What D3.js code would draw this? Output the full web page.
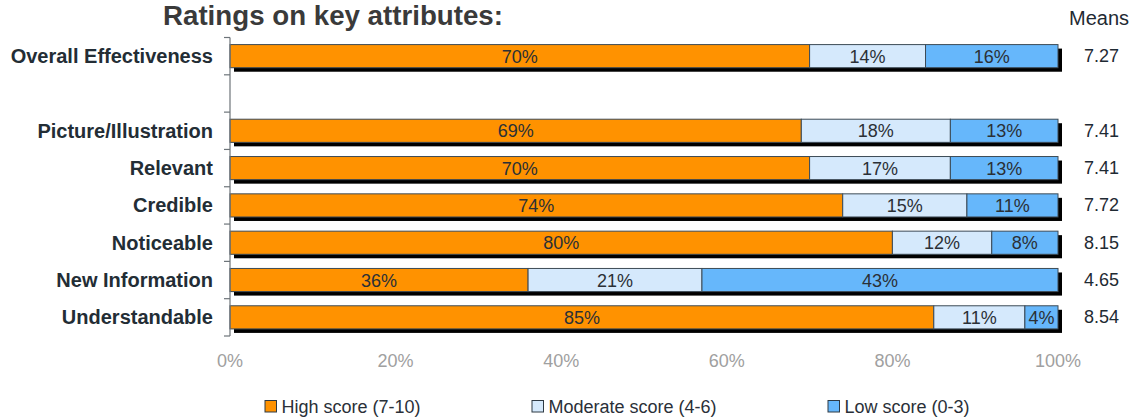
<!DOCTYPE html>
<html>
<head>
<meta charset="utf-8">
<script src="https://cdn.jsdelivr.net/npm/d3@7"></script>
<style>
  html, body { margin: 0; padding: 0; background: #fff; }
  svg { display: block; font-family: "Liberation Sans", Arial, Helvetica, sans-serif; }
</style>
</head>
<body>
<svg id="chart" width="1140" height="417"></svg>
<script>
// Rows of the chart; an empty entry leaves a gap under the first row.
const categories = ["Overall Effectiveness", "", "Picture/Illustration", "Relevant", "Credible", "Noticeable", "New Information", "Understandable"];
const rowNames = ["Overall Effectiveness", "Picture/Illustration", "Relevant", "Credible", "Noticeable", "New Information", "Understandable"];
const highScore = [70, 69, 70, 74, 80, 36, 85];
const moderateScore = [14, 18, 17, 15, 12, 21, 11];
const lowScore = [16, 13, 13, 11, 8, 43, 4];
const means = ["7.27", "7.41", "7.41", "7.72", "8.15", "4.65", "8.54"];
const xTicks = [0, 20, 40, 60, 80, 100];
const seriesNames = ["High score (7-10)", "Moderate score (4-6)", "Low score (0-3)"];
const seriesColors = ["#ff9200", "#d5e9fc", "#66b7fb"];

const svg = d3.select("#chart");
const plotLeft = 230, plotRight = 1058, plotTop = 37.5, plotBottom = 336;

const x = d3.scaleLinear().domain([0, 100]).range([plotLeft, plotRight]);
const y = d3.scaleBand().domain(categories.map((c, i) => i)).range([plotTop, plotBottom]).paddingInner(0.38).paddingOuter(0.19);
const step = y.step();

// Title
svg.append("text").attr("x", 163).attr("y", 25)
  .attr("font-size", 27).attr("font-weight", "bold").attr("fill", "#3a3a3a")
  .attr("textLength", 340).attr("lengthAdjust", "spacingAndGlyphs")
  .text("Ratings on key attributes:");

svg.append("text").attr("x", 1099).attr("y", 25).attr("text-anchor", "middle")
  .attr("font-size", 20).attr("fill", "#1f2a33").text("Means");

// Stack the three series
const table = rowNames.map((name, i) => ({ name, row: categories.indexOf(name), high: highScore[i], moderate: moderateScore[i], low: lowScore[i], mean: means[i] }));
const stacked = d3.stack().keys(["high", "moderate", "low"])(table);

const rows = svg.append("g");
// Drop shadows behind each full bar
rows.selectAll("rect.shadow").data(table).join("rect")
  .attr("class", "shadow")
  .attr("x", x(0) + 4).attr("y", d => y(d.row) + 4)
  .attr("width", x(100) - x(0)).attr("height", y.bandwidth())
  .attr("fill", "#000");

stacked.forEach((layer, k) => {
  const g = rows.append("g");
  g.selectAll("rect").data(layer).join("rect")
    .attr("x", d => x(d[0])).attr("y", d => y(d.data.row))
    .attr("width", d => x(d[1]) - x(d[0])).attr("height", y.bandwidth())
    .attr("fill", seriesColors[k]).attr("stroke", "#3d4b56").attr("stroke-width", 1);
  g.selectAll("text").data(layer).join("text")
    .attr("x", d => (x(d[0]) + x(d[1])) / 2).attr("y", d => y(d.data.row) + y.bandwidth() / 2 + 6.5)
    .attr("text-anchor", "middle").attr("font-size", 18).attr("fill", "#2b3036")
    .text(d => (d[1] - d[0]) + "%");
});

// Category labels
svg.append("g").selectAll("text").data(table).join("text")
  .attr("x", 213).attr("y", d => y(d.row) + y.bandwidth() / 2 + 7)
  .attr("text-anchor", "end").attr("font-size", 20).attr("font-weight", "bold").attr("fill", "#232d35")
  .text(d => d.name);

// Means column
svg.append("g").selectAll("text").data(table).join("text")
  .attr("x", 1084).attr("y", d => y(d.row) + y.bandwidth() / 2 + 6)
  .attr("font-size", 18).attr("fill", "#1f2a33")
  .text(d => d.mean);

// Vertical axis with ticks between rows
const axisG = svg.append("g").attr("stroke", "#6d7479").attr("stroke-width", 1.2);
axisG.append("line").attr("x1", plotLeft).attr("x2", plotLeft).attr("y1", plotTop).attr("y2", plotBottom);
d3.range(categories.length + 1).forEach(i => {
  const yy = plotTop + i * step;
  axisG.append("line").attr("x1", plotLeft - 6).attr("x2", plotLeft).attr("y1", yy).attr("y2", yy);
});

// Percentage axis labels
svg.append("g").selectAll("text").data(xTicks).join("text")
  .attr("x", d => x(d)).attr("y", 367).attr("text-anchor", "middle")
  .attr("font-size", 18).attr("fill", "#a0a0a0")
  .text(d => d + "%");

// Legend
const legendX = [265, 532, 828];
const legend = svg.append("g").selectAll("g").data(seriesNames).join("g")
  .attr("transform", (d, i) => `translate(${legendX[i]},400.5)`);
legend.append("rect").attr("width", 11.5).attr("height", 11.5)
  .attr("fill", (d, i) => seriesColors[i]).attr("stroke", "#2e3a44").attr("stroke-width", 1);
legend.append("text").attr("x", 16.5).attr("y", 12.5).attr("font-size", 18).attr("fill", "#2a3038")
  .text(d => d);
</script>
</body>
</html>
